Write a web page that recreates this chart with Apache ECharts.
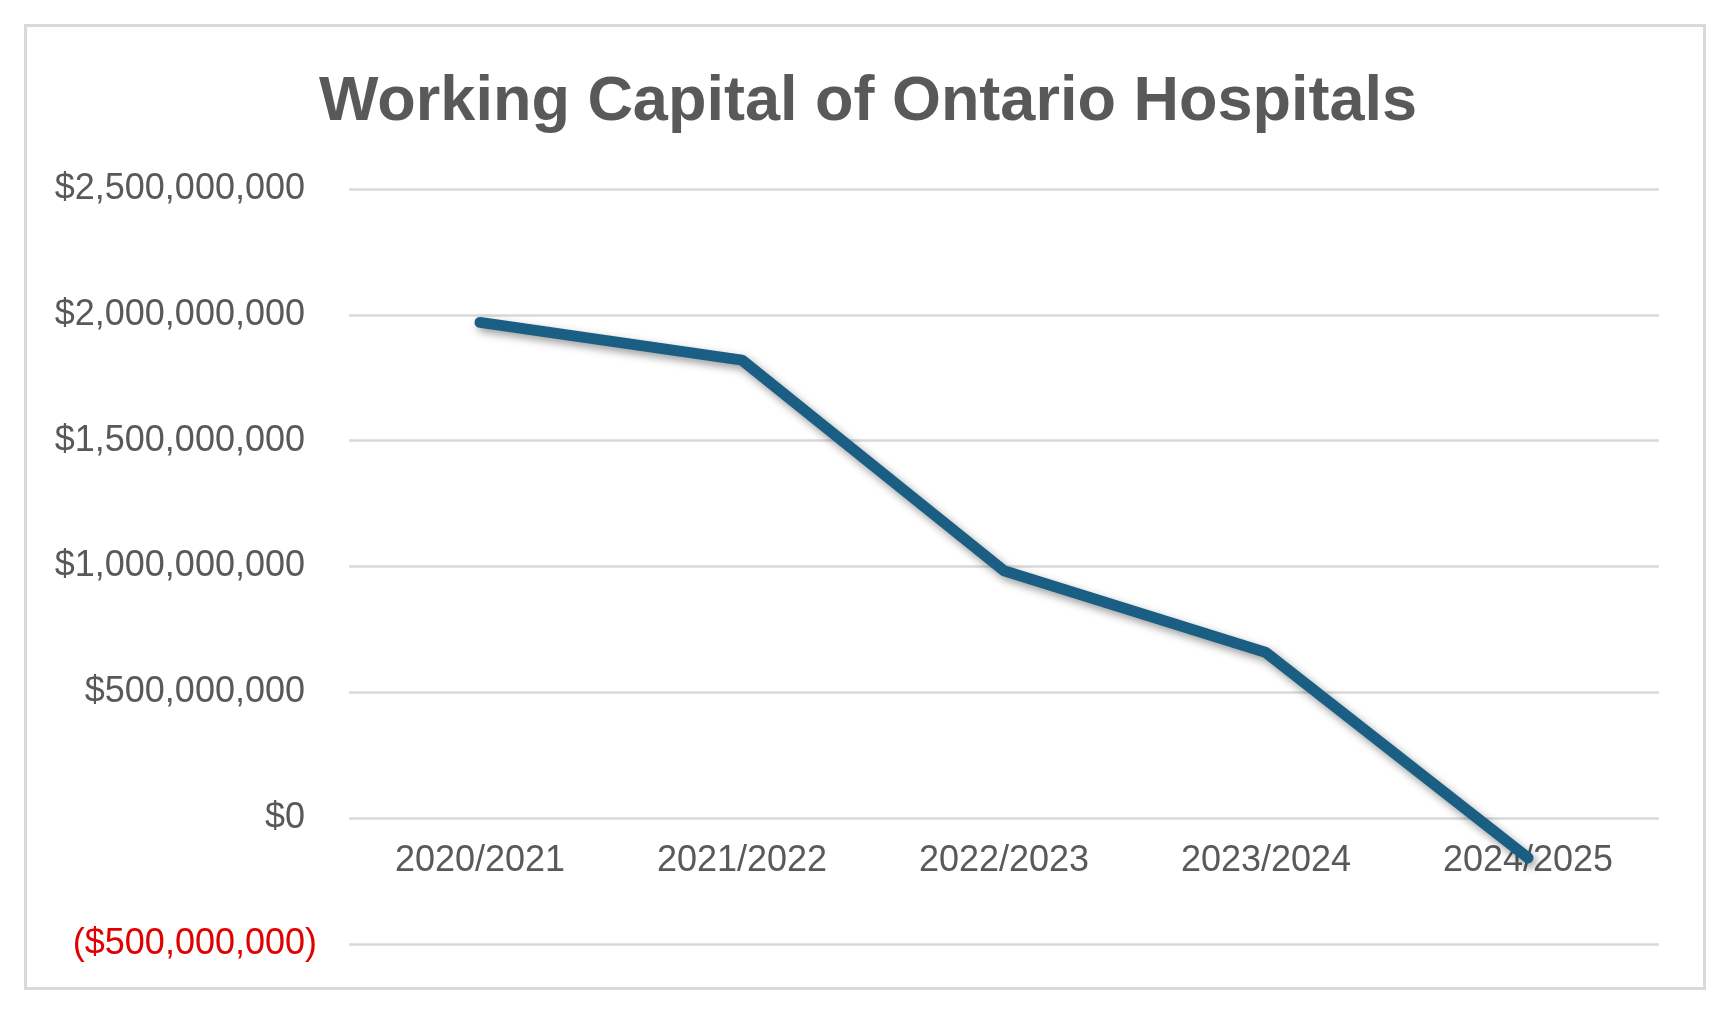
<!DOCTYPE html>
<html>
<head>
<meta charset="utf-8">
<script src="https://cdn.jsdelivr.net/npm/echarts@6/dist/echarts.min.js"></script>
<style>
  html, body { margin: 0; padding: 0; background: #fff; }
  #chart { width: 1736px; height: 1018px; }
</style>
</head>
<body>
<div id="chart"></div>
<script>
var years = ['2020/2021', '2021/2022', '2022/2023', '2023/2024', '2024/2025'];
var workingCapital = [1970000000, 1820000000, 983000000, 658000000, -158000000];
var yTicks = { min: -500000000, max: 2500000000, step: 500000000 };

function money(v) {
    var s = '$' + Math.abs(v).toString().replace(/\B(?=(\d{3})+(?!\d))/g, ',');
    // negatives hang their ")" past the column, like the spreadsheet does
    return v < 0 ? '{neg|(' + s + ')}' : s + '{sp| }';
}

var gridTop = 189, gridBottom = 74, chartH = 1018;
// category labels sit under the $0 line, not under the grid bottom
var zeroOffset = -(chartH - gridTop - gridBottom) * (0 - yTicks.min) / (yTicks.max - yTicks.min);

var chart = echarts.init(document.getElementById('chart'));
chart.setOption({
    backgroundColor: '#ffffff',
    animation: false,
    title: {
        text: 'Working Capital of Ontario Hospitals',
        left: 'center',
        top: 66,
        textStyle: { fontFamily: 'Liberation Sans', fontSize: 63, fontWeight: 'bold', color: '#595959' }
    },
    graphic: [{
        type: 'rect',
        shape: { x: 25.5, y: 25.5, width: 1679, height: 963 },
        style: { fill: 'none', stroke: '#d9d9d9', lineWidth: 3 },
        silent: true
    }],
    grid: { left: 349, right: 77, top: gridTop, bottom: gridBottom, containLabel: false },
    xAxis: {
        type: 'category',
        data: years,
        boundaryGap: true,
        offset: zeroOffset,
        axisLine: { show: false, onZero: false },
        axisTick: { show: false },
        axisLabel: { margin: 25, fontFamily: 'Liberation Sans', fontSize: 36, color: '#595959' },
        splitLine: { show: false }
    },
    yAxis: {
        type: 'value',
        min: yTicks.min,
        max: yTicks.max,
        interval: yTicks.step,
        axisLine: { show: false },
        axisTick: { show: false },
        axisLabel: {
            margin: 32,
            fontFamily: 'Liberation Sans',
            fontSize: 36,
            color: '#595959',
            formatter: money,
            rich: {
                neg: { color: '#e00000', fontFamily: 'Liberation Sans', fontSize: 36 },
                sp: { width: 12, fontSize: 36 }
            }
        },
        splitLine: { lineStyle: { color: '#d9d9d9', width: 2.5 } }
    },
    series: [{
        type: 'line',
        data: workingCapital,
        showSymbol: false,
        lineStyle: {
            color: '#1a5f83',
            width: 11,
            cap: 'round',
            join: 'round',
            shadowColor: 'rgba(0,0,0,0.4)',
            shadowBlur: 9,
            shadowOffsetX: 3,
            shadowOffsetY: 4
        }
    }]
});
</script>
</body>
</html>
